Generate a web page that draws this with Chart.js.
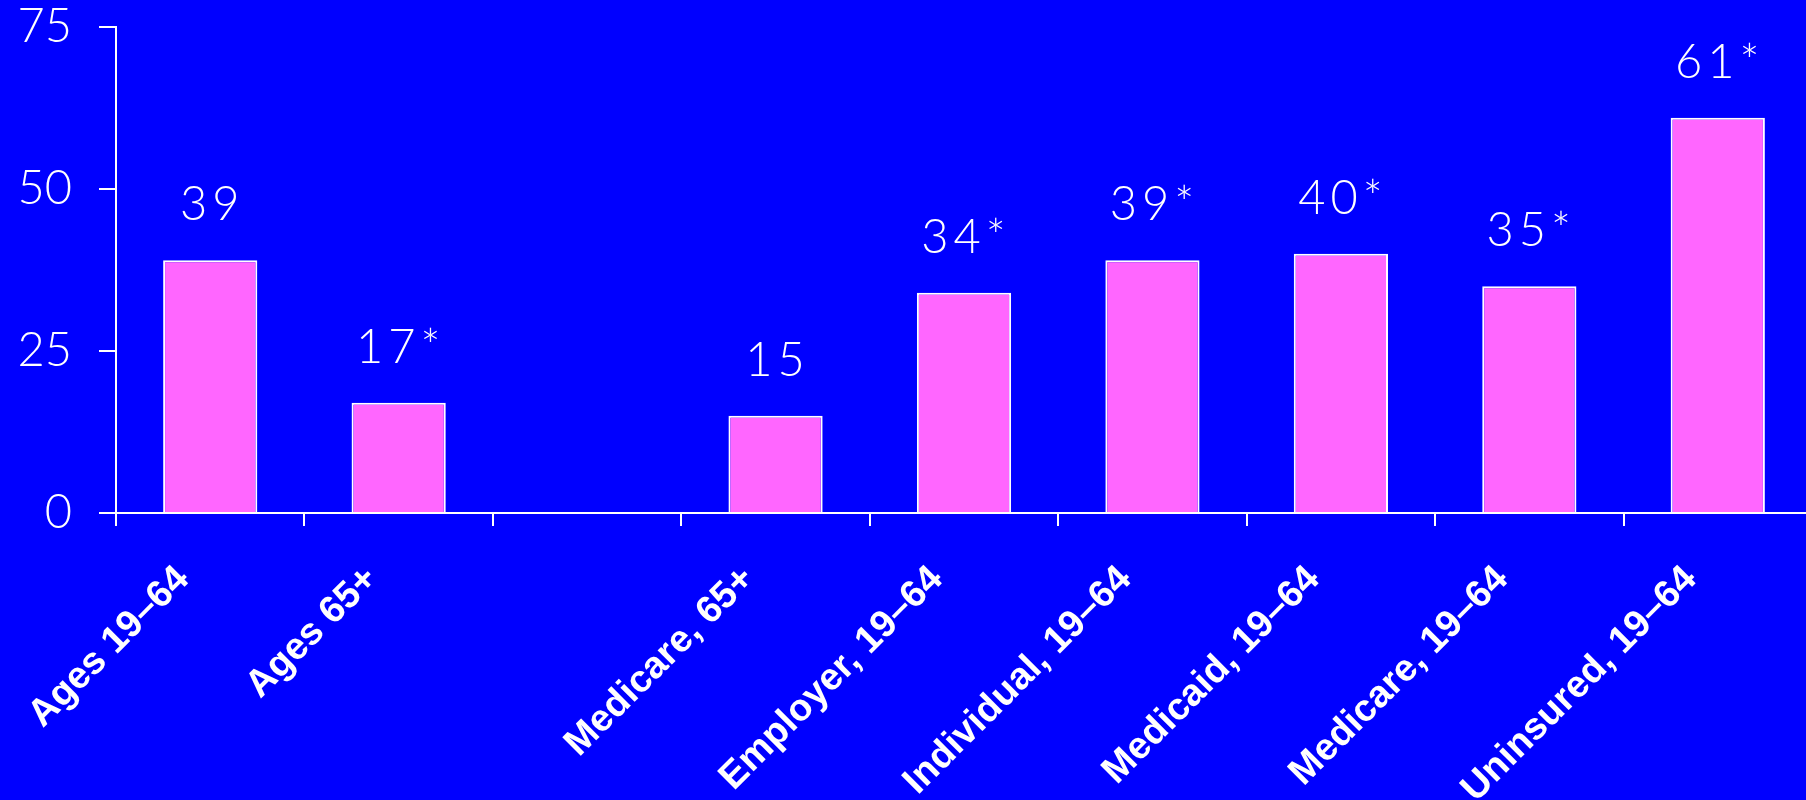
<!DOCTYPE html>
<html>
<head>
<meta charset="utf-8">
<script src="https://cdn.jsdelivr.net/npm/chart.js@4.4.0/dist/chart.umd.min.js"></script>
<style>
  html, body { margin: 0; padding: 0; background: #0000ff; overflow: hidden; }
</style>
</head>
<body>
<canvas id="chart" width="1812" height="800"></canvas>
<script>
const categories = ['Ages 19–64', 'Ages 65+', '', 'Medicare, 65+', 'Employer, 19–64',
  'Individual, 19–64', 'Medicaid, 19–64', 'Medicare, 19–64', 'Uninsured, 19–64'];
const values = [39, 17, null, 15, 34, 39, 40, 35, 61];
const valueLabels = ['39', '17*', '', '15', '34*', '39*', '40*', '35*', '61*'];
const yTicks = [0, 25, 50, 75];

const thinFont = "'Lato', 'Open Sans', 'DejaVu Sans', sans-serif";

// draws the numbers above each bar
const valueLabelPlugin = {
  id: 'valueLabels',
  afterDatasetsDraw(chart) {
    const ctx = chart.ctx;
    const meta = chart.getDatasetMeta(0);
    ctx.save();
    ctx.fillStyle = '#ffffff';
    ctx.font = '300 47px ' + thinFont;
    ctx.letterSpacing = '5px';
    ctx.textAlign = 'center';
    ctx.textBaseline = 'middle';
    meta.data.forEach((bar, i) => {
      if (values[i] == null) return;
      ctx.fillText(valueLabels[i], bar.x + 2, bar.y - 55);
    });
    ctx.restore();
  }
};

const ctx = document.getElementById('chart').getContext('2d');
new Chart(ctx, {
  type: 'bar',
  data: {
    labels: categories,
    datasets: [{
      data: values,
      backgroundColor: '#ff66ff',
      borderColor: '#ffffff',
      borderWidth: 2,
      categoryPercentage: 1,
      barPercentage: 0.5
    }]
  },
  options: {
    responsive: false,
    animation: false,
    layout: { padding: { top: 27, right: 0, left: 0, bottom: 0 } },
    plugins: { legend: { display: false }, tooltip: { enabled: false } },
    scales: {
      x: {
        afterFit(scale) { scale.height = 287; },
        border: { color: '#ffffff', width: 2 },
        grid: { display: true, drawOnChartArea: false, color: '#ffffff', lineWidth: 2, tickLength: 13, offset: true },
        ticks: {
          color: '#ffffff',
          font: { family: "'Liberation Sans', Arial, sans-serif", weight: 'bold', size: 38 },
          minRotation: 45,
          maxRotation: 45,
          padding: 31,
          labelOffset: -27,
          autoSkip: false
        }
      },
      y: {
        min: 0,
        max: 75,
        afterFit(scale) {
          scale.width = 116;
          scale.paddingTop = 0;
          scale.paddingBottom = 0;
        },
        afterBuildTicks(scale) { scale.ticks = yTicks.map(v => ({ value: v })); },
        border: { color: '#ffffff', width: 2 },
        grid: { display: true, drawOnChartArea: false, color: '#ffffff', lineWidth: 2, tickLength: 17 },
        ticks: {
          color: '#ffffff',
          font: { family: thinFont, weight: '300', size: 47 },
          padding: 27
        }
      }
    }
  },
  plugins: [valueLabelPlugin]
});
</script>
</body>
</html>
